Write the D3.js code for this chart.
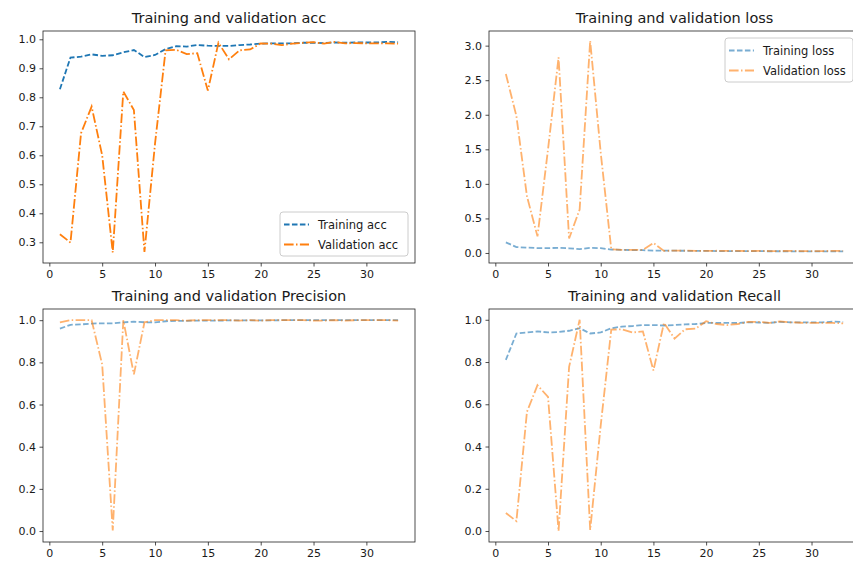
<!DOCTYPE html>
<html>
<head>
<meta charset="utf-8">
<script src="https://cdn.jsdelivr.net/npm/d3@7"></script>
<style>
  body { margin: 0; background: #fff; }
  text { font-family: "DejaVu Sans", sans-serif; fill: #1a1a1a; }
</style>
</head>
<body>
<div id="chart"></div>
<script>
// epochs 1..33
const epochs = d3.range(1, 34);

const trainAcc = [0.828, 0.937, 0.940, 0.948, 0.943, 0.945, 0.955, 0.963, 0.939, 0.946, 0.966, 0.976, 0.975, 0.980, 0.978, 0.977, 0.977, 0.980, 0.982, 0.985, 0.986, 0.986, 0.986, 0.988, 0.988, 0.987, 0.989, 0.988, 0.989, 0.989, 0.989, 0.991, 0.990];
const valAcc = [0.328, 0.299, 0.676, 0.768, 0.600, 0.265, 0.820, 0.756, 0.267, 0.640, 0.962, 0.964, 0.949, 0.952, 0.823, 0.988, 0.931, 0.962, 0.965, 0.986, 0.985, 0.980, 0.985, 0.988, 0.990, 0.985, 0.991, 0.986, 0.987, 0.986, 0.986, 0.986, 0.985];

const trainLoss = [0.153, 0.085, 0.078, 0.070, 0.070, 0.075, 0.068, 0.055, 0.075, 0.070, 0.050, 0.045, 0.042, 0.040, 0.035, 0.035, 0.033, 0.032, 0.030, 0.030, 0.028, 0.028, 0.027, 0.026, 0.026, 0.025, 0.025, 0.024, 0.024, 0.023, 0.023, 0.022, 0.022];
const valLoss = [2.59, 1.98, 0.82, 0.24, 1.50, 2.83, 0.21, 0.63, 3.07, 1.45, 0.055, 0.045, 0.045, 0.045, 0.145, 0.030, 0.035, 0.035, 0.030, 0.030, 0.032, 0.030, 0.030, 0.028, 0.030, 0.028, 0.028, 0.030, 0.028, 0.028, 0.028, 0.030, 0.030];

const trainPrecision = [0.960, 0.978, 0.980, 0.984, 0.985, 0.985, 0.990, 0.993, 0.990, 0.990, 0.995, 0.997, 0.997, 0.998, 0.998, 0.998, 0.999, 0.999, 0.999, 0.999, 0.999, 1.0, 1.0, 1.0, 1.0, 1.0, 1.0, 1.0, 1.0, 1.0, 1.0, 1.0, 1.0];
const valPrecision = [0.990, 1.0, 1.0, 1.0, 0.790, 0.003, 1.0, 0.743, 0.990, 1.0, 1.0, 1.0, 0.998, 1.0, 1.0, 1.0, 1.0, 0.998, 1.0, 0.998, 1.0, 1.0, 1.0, 1.0, 0.998, 0.998, 1.0, 0.998, 1.0, 1.0, 1.0, 1.0, 0.998];

const trainRecall = [0.810, 0.935, 0.940, 0.945, 0.940, 0.942, 0.948, 0.960, 0.935, 0.940, 0.960, 0.968, 0.970, 0.975, 0.975, 0.973, 0.975, 0.978, 0.980, 0.985, 0.985, 0.985, 0.985, 0.988, 0.987, 0.985, 0.990, 0.988, 0.988, 0.988, 0.988, 0.991, 0.990];
const valRecall = [0.085, 0.047, 0.564, 0.690, 0.635, 0.000, 0.777, 1.000, 0.005, 0.500, 0.953, 0.955, 0.940, 0.945, 0.760, 0.985, 0.911, 0.955, 0.958, 0.993, 0.980, 0.975, 0.980, 0.990, 0.990, 0.985, 0.992, 0.988, 0.986, 0.985, 0.985, 0.985, 0.983];

const xTicks = [0, 5, 10, 15, 20, 25, 30];
const accTicks = [0.3, 0.4, 0.5, 0.6, 0.7, 0.8, 0.9, 1.0];
const lossTicks = [0.0, 0.5, 1.0, 1.5, 2.0, 2.5, 3.0];
const unitTicks = [0.0, 0.2, 0.4, 0.6, 0.8, 1.0];

const BLUE = "#1f77b4", ORANGE = "#ff7f0e";
const LW = 1.8;

const svg = d3.select("#chart").append("svg")
    .attr("width", 853)
    .attr("height", 570);

const panels = [
    { title: "Training and validation acc", box: [43, 31, 415, 263], yDomain: [0.2286, 1.0286], yTicks: accTicks,
      train: trainAcc, val: valAcc, alpha: 1, legend: { labels: ["Training acc", "Validation acc"], corner: "lower right" } },
    { title: "Training and validation loss", box: [489, 31, 860, 263], yDomain: [-0.145, 3.212], yTicks: lossTicks,
      train: trainLoss, val: valLoss, alpha: 0.6, legend: { labels: ["Training loss", "Validation loss"], corner: "upper right" } },
    { title: "Training and validation Precision", box: [43, 309, 415, 542], yDomain: [-0.052, 1.053], yTicks: unitTicks,
      train: trainPrecision, val: valPrecision, alpha: 0.6 },
    { title: "Training and validation Recall", box: [489, 309, 860, 542], yDomain: [-0.052, 1.051], yTicks: unitTicks,
      train: trainRecall, val: valRecall, alpha: 0.6 }
];

panels.forEach(p => {
    const [x0, y0, x1, y1] = p.box;
    const x = d3.scaleLinear().domain([-0.6, 34.6]).range([x0, x1]);
    const y = d3.scaleLinear().domain(p.yDomain).range([y1, y0]);
    const g = svg.append("g");

    const fmt = d3.format(".1f");
    g.append("g")
        .attr("transform", `translate(0,${y1})`)
        .call(d3.axisBottom(x).tickValues(xTicks).tickSize(3.5).tickPadding(3.5).tickSizeOuter(0))
        .call(a => a.select(".domain").remove())
        .call(a => a.selectAll("text").attr("font-size", 11).attr("font-family", "DejaVu Sans"));
    g.append("g")
        .attr("transform", `translate(${x0},0)`)
        .call(d3.axisLeft(y).tickValues(p.yTicks).tickFormat(fmt).tickSize(3.5).tickPadding(3.5).tickSizeOuter(0))
        .call(a => a.select(".domain").remove())
        .call(a => a.selectAll("text").attr("font-size", 11).attr("font-family", "DejaVu Sans"));
    g.selectAll(".tick line").attr("stroke", "#222").attr("stroke-width", 0.8);

    const line = d3.line().x((d, i) => x(epochs[i])).y(d => y(d));

    const clipId = "clip" + x0 + "_" + y0;
    g.append("clipPath").attr("id", clipId)
        .append("rect").attr("x", x0).attr("y", y0).attr("width", x1 - x0).attr("height", y1 - y0);

    g.append("path").datum(p.train)
        .attr("clip-path", `url(#${clipId})`)
        .attr("d", line).attr("fill", "none")
        .attr("stroke", BLUE).attr("stroke-width", LW).attr("stroke-opacity", p.alpha)
        .attr("stroke-dasharray", "5.55,2.4");
    g.append("path").datum(p.val)
        .attr("clip-path", `url(#${clipId})`)
        .attr("d", line).attr("fill", "none")
        .attr("stroke", ORANGE).attr("stroke-width", LW).attr("stroke-opacity", p.alpha)
        .attr("stroke-dasharray", "9.6,2.4,1.5,2.4");

    g.append("rect")
        .attr("x", x0).attr("y", y0).attr("width", x1 - x0).attr("height", y1 - y0)
        .attr("fill", "none").attr("stroke", "#222").attr("stroke-width", 0.8);

    g.append("text")
        .attr("x", (x0 + x1) / 2).attr("y", y0 - 8)
        .attr("text-anchor", "middle").attr("font-size", 14.5)
        .text(p.title);

    if (p.legend) {
        const w = 128, h = 44;
        const lx = x1 - 7 - w;
        const ly = p.legend.corner === "upper right" ? y0 + 7 : y1 - 7 - h;
        const lg = g.append("g").attr("transform", `translate(${lx},${ly})`);
        lg.append("rect").attr("width", w).attr("height", h).attr("rx", 3)
            .attr("fill", "#fff").attr("fill-opacity", 0.8)
            .attr("stroke", "#cccccc").attr("stroke-width", 1);
        p.legend.labels.forEach((lab, i) => {
            const cy = 12.5 + i * 20;
            lg.append("line").attr("x1", 4).attr("x2", 29).attr("y1", cy).attr("y2", cy)
                .attr("stroke", i === 0 ? BLUE : ORANGE).attr("stroke-width", LW)
                .attr("stroke-opacity", p.alpha)
                .attr("stroke-dasharray", i === 0 ? "5.55,2.4" : "9.6,2.4,1.5,2.4");
            lg.append("text").attr("x", 38).attr("y", cy).attr("dy", "0.35em")
                .attr("font-size", 11.5).text(lab);
        });
    }
});
</script>
</body>
</html>
